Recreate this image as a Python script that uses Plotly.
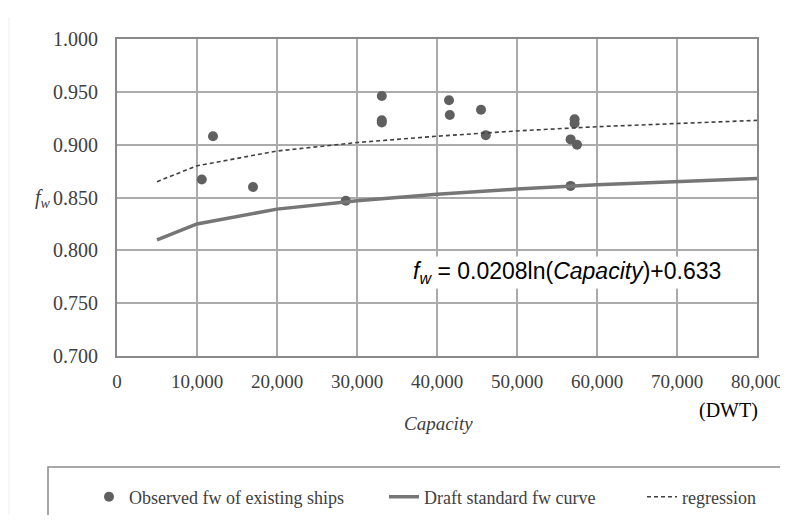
import plotly.graph_objects as go

# Observed fw of existing ships
obs_capacity = [10600, 12000, 17000, 28600, 33100, 33100, 33100, 41500, 41600,
                45500, 46100, 56700, 56700, 57200, 57200, 57500]
obs_fw = [0.867, 0.908, 0.860, 0.847, 0.946, 0.923, 0.921, 0.942, 0.928,
          0.933, 0.909, 0.905, 0.861, 0.924, 0.920, 0.900]

# Curves
curve_capacity = [5000, 10000, 20000, 30000, 40000, 50000, 60000, 70000, 80000]
draft_fw = [0.810, 0.825, 0.839, 0.847, 0.853, 0.858, 0.862, 0.865, 0.868]
regression_fw = [0.865, 0.880, 0.894, 0.902, 0.908, 0.913, 0.917, 0.920, 0.923]

SERIF = "Liberation Serif"
W, H = 780, 507          # page body adds an 8px margin on each side
L, R, T, B = 109, 31, 31, 159
PW, PH = W - L - R, H - T - B


def px(xs):
    # screen pixel -> paper fraction
    return (xs - 8 - L) / PW


def py(ys):
    return (H - B - (ys - 8)) / PH


fig = go.Figure()
fig.add_trace(go.Scatter(x=obs_capacity, y=obs_fw, mode="markers",
                         name="Observed fw of existing ships", legendwidth=250,
                         marker=dict(color="#606060", size=10)))
fig.add_trace(go.Scatter(x=curve_capacity, y=draft_fw, mode="lines",
                         name="Draft standard fw curve", legendwidth=213,
                         line=dict(color="#767676", width=3.5)))
fig.add_trace(go.Scatter(x=curve_capacity, y=regression_fw, mode="lines",
                         name="regression",
                         line=dict(color="#404040", width=1.6, dash="4px,3px")))

fig.update_layout(
    width=W, height=H,
    margin=dict(l=L, r=R, t=T, b=B, autoexpand=False),
    paper_bgcolor="white", plot_bgcolor="white",
    font=dict(family=SERIF, size=20, color="#404040"),
    showlegend=True,
    legend=dict(orientation="h", x=px(89), y=py(497), xanchor="left", yanchor="middle",
                font=dict(family=SERIF, size=18, color="#404040"),
                bgcolor="rgba(0,0,0,0)", traceorder="normal"),
    xaxis=dict(range=[0, 80000], dtick=10000, tickformat=",", showgrid=True,
               gridcolor="#ababab", gridwidth=2, showline=True, linecolor="#8a8a8a",
               linewidth=2, mirror=True, zeroline=False, ticks="", automargin=False,
               ticklabelstandoff=7,
               tickfont=dict(family=SERIF, size=19, color="#404040")),
    yaxis=dict(range=[0.7, 1.0], dtick=0.05, tickformat=".3f", showgrid=True,
               gridcolor="#ababab", gridwidth=2, showline=True, linecolor="#8a8a8a",
               linewidth=2, mirror=True, zeroline=False, ticks="", automargin=False,
               ticklabelstandoff=13,
               tickfont=dict(family=SERIF, size=20, color="#404040")),
)

fig.add_annotation(text="<i>f</i><sub><i>w</i></sub> = 0.0208ln(<i>Capacity</i>)+0.633",
                   xref="paper", yref="paper", x=px(567), y=py(272),
                   xanchor="center", yanchor="middle",
                   showarrow=False, bgcolor="white",
                   font=dict(family="Liberation Sans", size=23, color="#000000"))
fig.add_annotation(text="<i>f<sub>w</sub></i>", xref="paper", yref="paper",
                   x=px(43), y=py(198), xanchor="center", yanchor="middle", showarrow=False,
                   font=dict(family=SERIF, size=20, color="#404040"))
fig.add_annotation(text="<i>Capacity</i>", xref="paper", yref="paper",
                   x=px(438), y=py(423), xanchor="center", yanchor="middle", showarrow=False,
                   font=dict(family=SERIF, size=19, color="#404040"))
fig.add_annotation(text="(DWT)", xref="paper", yref="paper",
                   x=px(728), y=py(410), xanchor="center", yanchor="middle", showarrow=False,
                   font=dict(family=SERIF, size=20, color="#000000"))

# legend frame and faint page border
fig.add_shape(type="rect", xref="paper", yref="paper",
              x0=px(48), x1=px(782), y0=py(540), y1=py(467),
              line=dict(color="#8a8a8a", width=1.5), layer="below")
fig.add_shape(type="line", xref="paper", yref="paper",
              x0=px(9), x1=px(9), y0=py(540), y1=py(17),
              line=dict(color="#eeeeee", width=1))

fig.write_html("out.html")
